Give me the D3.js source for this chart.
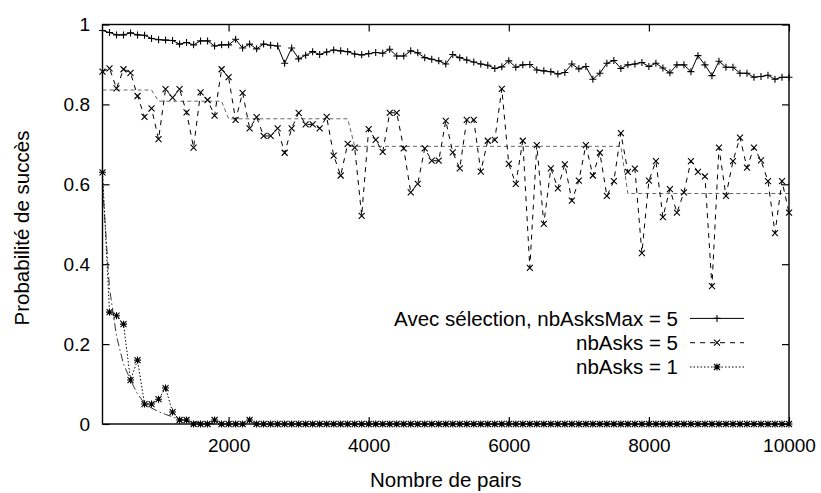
<!DOCTYPE html>
<html><head><meta charset="utf-8">
<script src="https://cdn.jsdelivr.net/npm/d3@7"></script>
<style>body{margin:0;background:#fff}svg{display:block}</style>
</head><body>
<svg id="c" width="821" height="493"></svg>
<script>
// ---- data ----
const nbPairs = d3.range(200, 10001, 100); // 200 .. 10000
const xTicks = [2000, 4000, 6000, 8000, 10000];
const yTicks = [0, 0.2, 0.4, 0.6, 0.8, 1];
const yTickLabels = ["0", "0.2", "0.4", "0.6", "0.8", "1"];
const seriesLabels = ["Avec sélection, nbAsksMax = 5", "nbAsks = 5", "nbAsks = 1"];

const avecSelection = [
 0.985,0.980,0.974,0.974,0.979,0.974,0.973,0.965,0.962,0.961,
 0.960,0.951,0.955,0.949,0.959,0.959,0.946,0.949,0.949,0.963,
 0.941,0.951,0.939,0.951,0.948,0.946,0.903,0.941,0.914,0.923,
 0.932,0.925,0.931,0.936,0.934,0.932,0.926,0.924,0.927,0.930,
 0.928,0.938,0.921,0.921,0.934,0.929,0.917,0.913,0.909,0.901,
 0.925,0.917,0.911,0.906,0.901,0.898,0.890,0.894,0.909,0.893,
 0.899,0.900,0.886,0.884,0.882,0.876,0.880,0.901,0.889,0.895,
 0.863,0.878,0.903,0.910,0.890,0.899,0.901,0.905,0.895,0.903,
 0.891,0.879,0.899,0.899,0.882,0.922,0.899,0.872,0.908,0.893,
 0.893,0.878,0.878,0.868,0.870,0.873,0.863,0.868,0.868];

const nbAsks5 = [
 0.882,0.890,0.840,0.888,0.879,0.821,0.769,0.790,0.713,0.838,
 0.817,0.838,0.780,0.692,0.830,0.811,0.772,0.888,0.868,0.761,
 0.829,0.740,0.768,0.721,0.721,0.740,0.679,0.740,0.779,0.750,
 0.750,0.740,0.769,0.672,0.622,0.701,0.692,0.521,0.738,0.711,
 0.681,0.779,0.779,0.690,0.580,0.601,0.690,0.659,0.659,0.759,
 0.680,0.640,0.761,0.761,0.632,0.709,0.711,0.839,0.651,0.601,
 0.709,0.391,0.698,0.501,0.640,0.590,0.650,0.559,0.609,0.698,
 0.622,0.679,0.571,0.608,0.728,0.631,0.639,0.428,0.609,0.658,
 0.518,0.588,0.529,0.580,0.658,0.631,0.620,0.345,0.692,0.571,
 0.658,0.717,0.642,0.692,0.660,0.608,0.478,0.608,0.529];

const nbAsks1 = [
 0.63,0.28,0.271,0.25,0.11,0.16,0.05,0.05,0.062,0.09,
 0.03,0.01,0.01,0,0,0,0.01,0,0,0,
 0,0.01,0,0,0,0,0,0,0,0,
 0,0,0,0,0,0,0,0,0,0,
 0,0,0,0,0,0,0,0,0,0,
 0,0,0,0,0,0,0,0,0,0,
 0,0,0,0,0,0,0,0,0,0,
 0,0,0,0,0,0,0,0,0,0,
 0,0,0,0,0,0,0,0,0,0,
 0,0,0,0,0,0,0,0,0];

// step-like fit drawn under nbAsks = 5
const fitNbAsks5 = [
 0.836,0.836,0.836,0.836,0.836,0.836,0.836,0.836,0.808,0.808,
 0.808,0.808,0.808,0.808,0.808,0.808,0.808,0.808,0.764,0.764,
 0.764,0.764,0.764,0.764,0.764,0.764,0.764,0.764,0.764,0.764,
 0.764,0.764,0.764,0.764,0.764,0.764,0.695,0.695,0.695,0.695,
 0.695,0.695,0.695,0.695,0.695,0.695,0.695,0.695,0.695,0.695,
 0.695,0.695,0.695,0.695,0.695,0.695,0.695,0.695,0.695,0.695,
 0.695,0.695,0.695,0.695,0.695,0.695,0.695,0.695,0.695,0.695,
 0.695,0.695,0.695,0.695,0.695,0.577,0.577,0.577,0.577,0.577,
 0.577,0.577,0.577,0.577,0.577,0.577,0.577,0.577,0.577,0.577,
 0.577,0.577,0.577,0.577,0.577,0.577,0.577,0.577,0.577];

// decay curve drawn under nbAsks = 1 (first points, then flat at 0)
const fitNbAsks1 = [
 0.60,0.34,0.22,0.15,0.11,0.075,0.052,0.04,0.031,0.024,
 0.018,0.012,0.008,0.005,0.003,0.002,0];

// ---- drawing ----
const svg = d3.select("#c");
const font = "'Liberation Sans', Arial, Helvetica, sans-serif";
const L = 102.5, R = 789, T = 24.5, B = 424;
const x = d3.scaleLinear().domain([200, 10000]).range([L, R]);
const y = d3.scaleLinear().domain([0, 1]).range([B, T]);

const pts = arr => arr.map((v, i) => ({x: nbPairs[i], v}));
const line = d3.line().x(d => x(d.x)).y(d => y(d.v));

// axes (ticks inward, mirrored)
const gB = svg.append("g").attr("transform", `translate(0,${B})`)
  .call(d3.axisBottom(x).tickValues(xTicks).tickSizeInner(-7).tickSizeOuter(0).tickPadding(15).tickFormat(d3.format("d")));
const gT = svg.append("g").attr("transform", `translate(0,${T})`)
  .call(d3.axisTop(x).tickValues(xTicks).tickSizeInner(-7).tickSizeOuter(0).tickFormat(""));
const gL = svg.append("g").attr("transform", `translate(${L},0)`)
  .call(d3.axisLeft(y).tickValues(yTicks).tickSizeInner(-7).tickSizeOuter(0).tickPadding(12.5).tickFormat((d, i) => yTickLabels[i]));
const gR = svg.append("g").attr("transform", `translate(${R},0)`)
  .call(d3.axisRight(y).tickValues(yTicks).tickSizeInner(-7).tickSizeOuter(0).tickFormat(""));
[gB, gT, gL, gR].forEach(g => {
  g.select(".domain").remove();
  g.selectAll(".tick line").attr("stroke", "#000").attr("stroke-width", 1.2);
  g.selectAll("text").attr("font-family", font).attr("font-size", 19).attr("fill", "#000");
});

// fits
svg.append("path").attr("d", line(pts(fitNbAsks5))).attr("fill", "none")
  .attr("stroke", "#666").attr("stroke-width", 1).attr("stroke-dasharray", "4,3");
svg.append("path").attr("d", line(pts(fitNbAsks1))).attr("fill", "none")
  .attr("stroke", "#333").attr("stroke-width", 1).attr("stroke-dasharray", "8,3,1.5,3");

// marker shapes
const plus = "M-3.5,0H3.5M0,-3.5V3.5";
const cross = "M-3,-3L3,3M-3,3L3,-3";
const star = plus + cross;

const series = [
  {data: avecSelection, dash: null, marker: plus},
  {data: nbAsks5, dash: "5,5", marker: cross},
  {data: nbAsks1, dash: "1.5,2", marker: star}
];

series.forEach(s => {
  svg.append("path").attr("d", line(pts(s.data))).attr("fill", "none")
    .attr("stroke", "#000").attr("stroke-width", 1)
    .attr("stroke-dasharray", s.dash);
  svg.append("g").selectAll("path").data(pts(s.data)).join("path")
    .attr("transform", d => `translate(${x(d.x)},${y(d.v)})`)
    .attr("d", s.marker).attr("stroke", "#000").attr("stroke-width", 1.1).attr("fill", "none");
});

// frame
svg.append("rect").attr("x", L).attr("y", T).attr("width", R - L).attr("height", B - T)
  .attr("fill", "none").attr("stroke", "#000").attr("stroke-width", 1.4);

// axis titles
svg.append("text").attr("x", (L + R) / 2).attr("y", 487).attr("text-anchor", "middle")
  .attr("font-family", font).attr("font-size", 20.5).text("Nombre de pairs");
svg.append("text").attr("transform", "translate(29,228) rotate(-90)").attr("text-anchor", "middle")
  .attr("font-family", font).attr("font-size", 20.5).text("Probabilité de succès");

// legend
const legY = [318.4, 342.7, 367];
series.forEach((s, i) => {
  const yy = legY[i];
  svg.append("text").attr("x", 678).attr("y", yy).attr("dy", "0.35em").attr("text-anchor", "end")
    .attr("font-family", font).attr("font-size", 20.5).text(seriesLabels[i]);
  svg.append("line").attr("x1", 690).attr("x2", 744).attr("y1", yy).attr("y2", yy)
    .attr("stroke", "#000").attr("stroke-width", 1).attr("stroke-dasharray", s.dash);
  svg.append("path").attr("transform", `translate(717,${yy})`).attr("d", s.marker)
    .attr("stroke", "#000").attr("stroke-width", 1.1).attr("fill", "none");
});
</script>
</body></html>
